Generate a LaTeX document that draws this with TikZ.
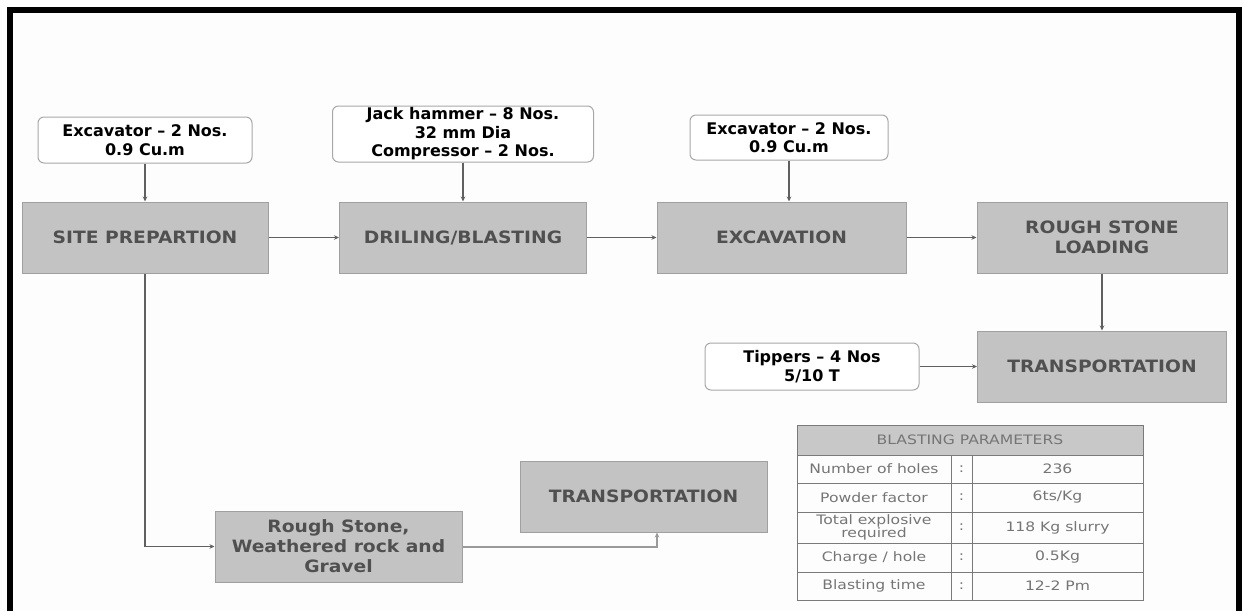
\documentclass[tikz,border=0pt]{standalone}
\usepackage{fontspec}
\setmainfont{DejaVu Sans}
\newfontfamily\stepfont[FakeStretch=1.1]{DejaVu Sans}
\newfontfamily\tblfont[FakeStretch=1.2]{DejaVu Sans}
\usetikzlibrary{arrows.meta}
\definecolor{boxfill}{HTML}{C3C3C3}
\definecolor{boxdraw}{HTML}{A0A0A0}
\definecolor{boxtext}{HTML}{505050}
\definecolor{lbldraw}{HTML}{A8A8A8}
\definecolor{arr}{HTML}{606060}
\definecolor{arrlight}{HTML}{9A9A9A}
\definecolor{tbldraw}{HTML}{7A7A7A}
\definecolor{tblhead}{HTML}{C8C8C8}
\definecolor{tbltext}{HTML}{757575}
\definecolor{bgc}{HTML}{FDFDFD}
\tikzset{
  stepbox/.style={draw=boxdraw, fill=boxfill, line width=1pt, text=boxtext,
    font=\stepfont\fontsize{17}{20}\selectfont\bfseries, align=center, inner sep=0pt},
  lblbox/.style={draw=lbldraw, fill=white, line width=1pt, rounded corners=6pt,
    font=\fontsize{16}{18.5}\selectfont\bfseries, align=center, inner sep=0pt},
  flow/.style={draw=arr, line width=1.1pt, -{Stealth[length=5pt,width=4.5pt]}},
  flowlight/.style={draw=arrlight, line width=1.1pt, -{Stealth[length=5pt,width=4.5pt]}},
  tcell/.style={text=tbltext, font=\tblfont\fontsize{13}{13.5}\selectfont, align=center, inner sep=0pt},
}
\begin{document}
\begin{tikzpicture}[x=1pt,y=-1pt]
\useasboundingbox (0,0) rectangle (1243,611);
\fill[bgc] (0,0) rectangle (1243,611);
\draw[line width=6pt, black] (9.5,611) -- (9.5,10) -- (1238.5,10) -- (1238.5,611);

% step boxes
\node[stepbox, minimum width=246pt, minimum height=71pt] (site) at (145,237.5) {SITE PREPARTION};
\node[stepbox, minimum width=247pt, minimum height=71pt] (dril) at (463,237.5) {DRILING/BLASTING};
\node[stepbox, minimum width=249pt, minimum height=71pt] (excav) at (781.5,237.5) {EXCAVATION};
\node[stepbox, minimum width=250pt, minimum height=71pt] (rsl) at (1102,237.5) {ROUGH STONE\\LOADING};
\node[stepbox, minimum width=249pt, minimum height=71pt] (trans) at (1102,366.5) {TRANSPORTATION};
\node[stepbox, minimum width=247pt, minimum height=71pt] (trans2) at (643.5,496.5) {TRANSPORTATION};
\node[stepbox, minimum width=247pt, minimum height=71pt] (rsw) at (338.5,546.5) {Rough Stone,\\Weathered rock and\\Gravel};

% label boxes
\node[lblbox, minimum width=214pt, minimum height=46pt] (ex1) at (145,140) {Excavator -- 2 Nos.\\0.9 Cu.m};
\node[lblbox, minimum width=261pt, minimum height=56pt] (jh) at (463,134) {Jack hammer -- 8 Nos.\\32 mm Dia\\Compressor -- 2 Nos.};
\node[lblbox, minimum width=198pt, minimum height=45pt] (ex3) at (789,137.5) {Excavator -- 2 Nos.\\0.9 Cu.m};
\node[lblbox, minimum width=214pt, minimum height=47pt] (tip) at (812,366.5) {Tippers -- 4 Nos\\5/10 T};

% connectors
\draw[flow] (ex1) -- (site);
\draw[flow] (jh) -- (dril);
\draw[flow] (ex3.south) -- (ex3.south |- excav.north);
\draw[flow] (site) -- (dril);
\draw[flow] (dril) -- (excav);
\draw[flow] (excav) -- (rsl);
\draw[flow] (rsl) -- (trans);
\draw[flow] (tip) -- (trans);
\coordinate (turn) at (657,547);
\draw[flow] (site.south) |- (rsw.west);
\draw[flowlight] (rsw.east |- turn) -- (turn) -- (turn |- trans2.south);

% table
\fill[tblhead] (797,425) rectangle (1143,455);
\draw[tbldraw, line width=0.9pt] (797,425) rectangle (1143,600);
\foreach \yy in {455,483,512,543,572} \draw[tbldraw, line width=0.9pt] (797,\yy) -- (1143,\yy);
\draw[tbldraw, line width=0.9pt] (951,455) -- (951,600);
\draw[tbldraw, line width=0.9pt] (972,455) -- (972,600);
\node[tcell] (th) at (970,440) {BLASTING PARAMETERS};
\node[tcell] (r1a) at (874,469) {Number of holes};
\node[tcell] (r1b) at (961.5,469) {:};
\node[tcell] (r1c) at (1057.5,469) {236};
\node[tcell] (r2a) at (874,497.5) {Powder factor};
\node[tcell] (r2b) at (961.5,497.5) {:};
\node[tcell] (r2c) at (1057.5,497.5) {6ts/Kg};
\node[tcell] (r3a) at (874,527.5) {Total explosive\\required};
\node[tcell] (r3b) at (961.5,527.5) {:};
\node[tcell] (r3c) at (1057.5,527.5) {118 Kg slurry};
\node[tcell] (r4a) at (874,557.5) {Charge / hole};
\node[tcell] (r4b) at (961.5,557.5) {:};
\node[tcell] (r4c) at (1057.5,557.5) {0.5Kg};
\node[tcell] (r5a) at (874,586) {Blasting time};
\node[tcell] (r5b) at (961.5,586) {:};
\node[tcell] (r5c) at (1057.5,586) {12-2 Pm};
\end{tikzpicture}
\end{document}
